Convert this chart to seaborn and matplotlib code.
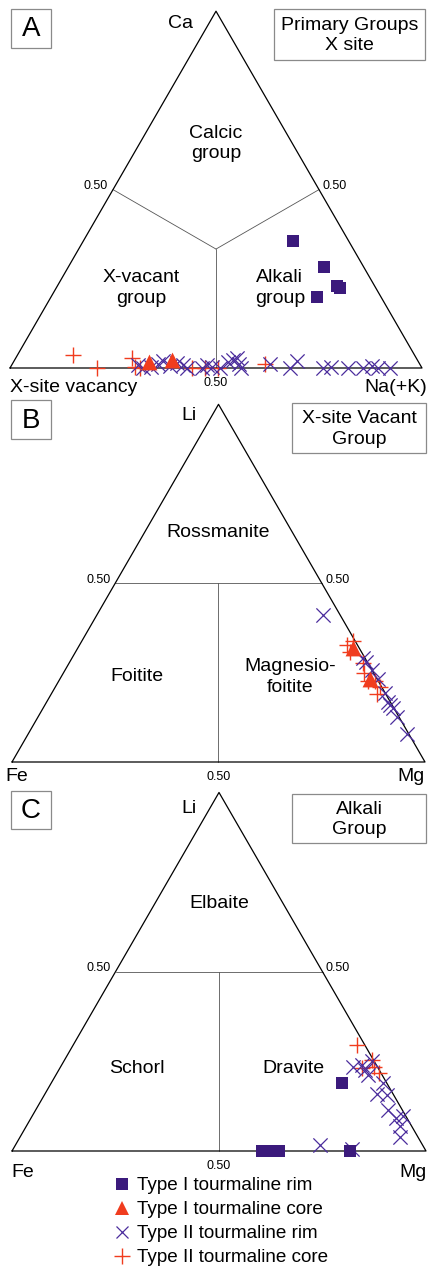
import numpy as np
import pandas as pd
import matplotlib
matplotlib.use("Agg")
import matplotlib.pyplot as plt
import seaborn as sns
from matplotlib.lines import Line2D
from matplotlib.patches import Rectangle

# ---- data: ternary fractions (top apex, right apex) ----
# Panel A: Ca (top), X-site vacancy (left), Na(+K) (right)
a_rim1_ca = [0.356, 0.283, 0.230, 0.224, 0.199]
a_rim1_na = [0.509, 0.621, 0.679, 0.689, 0.646]
a_core1_ca = [0.017, 0.022]
a_core1_na = [0.330, 0.383]
a_rim2_ca = [0.008, 0.0, 0.003, 0.011, 0.020, 0.006, 0.014, 0.008, 0.0, 0.0,
             0.008, 0.003, 0.0, 0.017, 0.022, 0.028, 0.011, 0.0, 0.011, 0.0,
             0.020, 0.0, 0.003, 0.0, 0.0, 0.006, 0.0, 0.0]
a_rim2_na = [0.307, 0.323, 0.340, 0.354, 0.361, 0.385, 0.398, 0.416, 0.430, 0.466,
             0.474, 0.490, 0.510, 0.521, 0.530, 0.537, 0.550, 0.561, 0.625, 0.680,
             0.687, 0.760, 0.777, 0.820, 0.857, 0.876, 0.893, 0.922]
a_core2_ca = [0.036, 0.0, 0.028, 0.003, 0.0, 0.0, 0.0, 0.0, 0.011]
a_core2_na = [0.135, 0.211, 0.282, 0.303, 0.316, 0.442, 0.473, 0.505, 0.613]

# Panel B: Li (top), Fe (left), Mg (right)
b_core1_li = [0.318, 0.232]
b_core1_mg = [0.667, 0.751]
b_rim2_li = [0.411, 0.291, 0.279, 0.257, 0.232, 0.193, 0.168, 0.159, 0.151, 0.126, 0.078]
b_rim2_mg = [0.548, 0.705, 0.717, 0.744, 0.770, 0.807, 0.826, 0.835, 0.848, 0.869, 0.917]
b_core2_li = [0.327, 0.338, 0.307, 0.277, 0.249, 0.226, 0.226, 0.209, 0.190]
b_core2_mg = [0.648, 0.657, 0.664, 0.712, 0.728, 0.749, 0.766, 0.786, 0.789]

# Panel C: Li (top), Fe (left), Mg (right)
c_rim1_li = [0.190, 0.0, 0.0, 0.0, 0.0, 0.0]
c_rim1_mg = [0.702, 0.604, 0.618, 0.633, 0.645, 0.816]
c_rim2_li = [0.017, 0.006, 0.235, 0.240, 0.226, 0.251, 0.212, 0.190, 0.159, 0.156,
             0.115, 0.092, 0.098, 0.070, 0.039]
c_rim2_mg = [0.736, 0.818, 0.707, 0.725, 0.740, 0.744, 0.754, 0.801, 0.802, 0.828,
             0.851, 0.882, 0.895, 0.902, 0.917]
c_core2_li = [0.296, 0.254, 0.232, 0.235, 0.218]
c_core2_mg = [0.685, 0.743, 0.729, 0.757, 0.777]

labels = ["Type I tourmaline rim", "Type I tourmaline core",
          "Type II tourmaline rim", "Type II tourmaline core"]

PURPLE = "#3b1a7c"
XPURPLE = "#4a2c9c"
RED = "#f03c1e"

W, H = 429, 1268
sns.set_theme(style="white")
plt.rcParams["font.family"] = ["Liberation Sans", "DejaVu Sans"]
plt.rcParams["text.color"] = "black"

fig = plt.figure(figsize=(W / 100, H / 100), dpi=100)
fig.patch.set_facecolor("white")

SQ3 = np.sqrt(3) / 2


def to_xy(top, right):
    top = np.asarray(top, float)
    right = np.asarray(right, float)
    return right + top / 2, top * SQ3


def panel(top_px, bot_px, left_px, base_px, side_px):
    ax = fig.add_axes([0, 1 - bot_px / H, 1, (bot_px - top_px) / H])
    ax.set_xlim(-left_px / side_px, (W - left_px) / side_px)
    ax.set_ylim((base_px - bot_px) / side_px, (base_px - top_px) / side_px)
    ax.axis("off")
    ax.plot([0, 1, 0.5, 0], [0, 0, SQ3, 0], color="black", lw=0.9, zorder=2)
    return ax


def scat(ax, top, right, kind):
    x, y = to_xy(top, right)
    df = pd.DataFrame({"x": x, "y": y})
    if kind == 0:
        sns.scatterplot(data=df, x="x", y="y", ax=ax, marker="s", s=70,
                        color=PURPLE, edgecolor=PURPLE, linewidth=0, zorder=4)
    elif kind == 1:
        sns.scatterplot(data=df, x="x", y="y", ax=ax, marker="^", s=130,
                        color=RED, edgecolor=RED, linewidth=0, zorder=5)
    elif kind == 2:
        sns.scatterplot(data=df, x="x", y="y", ax=ax, marker="x", s=105,
                        color=XPURPLE, linewidth=0.9, zorder=3)
    else:
        sns.scatterplot(data=df, x="x", y="y", ax=ax, marker="+", s=145,
                        color=RED, linewidth=1.0, zorder=3)
    ax.set_xlabel("")
    ax.set_ylabel("")


def half_labels(ax):
    lx, ly = to_xy(0.5, 0.0)
    rx, ry = to_xy(0.5, 0.5)
    ax.text(lx - 0.012, ly + 0.008, "0.50", fontsize=9, ha="right", va="center")
    ax.text(rx + 0.008, ry + 0.008, "0.50", fontsize=9, ha="left", va="center")
    ax.text(0.5, -0.021, "0.50", fontsize=9, ha="center", va="top")


# ---------------- Panel A ----------------
axA = panel(0, 392, 10, 368, 412)
cx, cy = to_xy(1 / 3, 1 / 3)
for p in [to_xy(0.5, 0.0), to_xy(0.5, 0.5), to_xy(0.0, 0.5)]:
    axA.plot([p[0], cx], [p[1], cy], color="#555555", lw=0.6, zorder=1)
half_labels(axA)
axA.text(0.5 - 0.055, SQ3 - 0.03, "Ca", fontsize=14, ha="right", va="center")
axA.text(0.0, -0.048, "X-site vacancy", fontsize=14, ha="left", va="center")
axA.text(1.012, -0.048, "Na(+K)", fontsize=14, ha="right", va="center")
axA.text(0.5, 0.545, "Calcic\ngroup", fontsize=14, ha="center", va="center", linespacing=1.3)
axA.text(0.318, 0.194, "X-vacant\ngroup", fontsize=14, ha="center", va="center", linespacing=1.3)
axA.text(0.655, 0.194, "Alkali\ngroup", fontsize=14, ha="center", va="center", linespacing=1.3)
scat(axA, a_core2_ca, a_core2_na, 3)
scat(axA, a_rim2_ca, a_rim2_na, 2)
scat(axA, a_core1_ca, a_core1_na, 1)
scat(axA, a_rim1_ca, a_rim1_na, 0)

# ---------------- Panel B ----------------
axB = panel(392, 785, 12, 762, 413)


def li_grid(ax):
    lx, ly = to_xy(0.5, 0.0)
    rx, ry = to_xy(0.5, 0.5)
    ax.plot([lx, rx], [ly, ry], color="#555555", lw=0.6, zorder=1)
    ax.plot([0.5, 0.5], [0, ly], color="#555555", lw=0.6, zorder=1)


li_grid(axB)
half_labels(axB)
axB.text(0.5 - 0.053, SQ3 - 0.026, "Li", fontsize=14, ha="right", va="center")
axB.text(0.012, -0.034, "Fe", fontsize=14, ha="center", va="center")
axB.text(0.965, -0.034, "Mg", fontsize=14, ha="center", va="center")
axB.text(0.5, 0.555, "Rossmanite", fontsize=14, ha="center", va="center")
axB.text(0.303, 0.206, "Foitite", fontsize=14, ha="center", va="center")
axB.text(0.673, 0.206, "Magnesio-\nfoitite", fontsize=14, ha="center", va="center", linespacing=1.3)
scat(axB, b_core2_li, b_core2_mg, 3)
scat(axB, b_rim2_li, b_rim2_mg, 2)
scat(axB, b_core1_li, b_core1_mg, 1)

# ---------------- Panel C ----------------
axC = panel(785, 1268, 12, 1151, 414)
li_grid(axC)
half_labels(axC)
axC.text(0.5 - 0.053, SQ3 - 0.038, "Li", fontsize=14, ha="right", va="center")
axC.text(0.027, -0.053, "Fe", fontsize=14, ha="center", va="center")
axC.text(0.968, -0.053, "Mg", fontsize=14, ha="center", va="center")
axC.text(0.5, 0.599, "Elbaite", fontsize=14, ha="center", va="center")
axC.text(0.302, 0.200, "Schorl", fontsize=14, ha="center", va="center")
axC.text(0.679, 0.200, "Dravite", fontsize=14, ha="center", va="center")
scat(axC, c_core2_li, c_core2_mg, 3)
scat(axC, c_rim2_li, c_rim2_mg, 2)
scat(axC, c_rim1_li, c_rim1_mg, 0)

# ---------------- boxes (pixel overlay) ----------------
ov = fig.add_axes([0, 0, 1, 1], facecolor="none")
ov.set_xlim(0, W)
ov.set_ylim(H, 0)
ov.axis("off")


def box(x0, y0, x1, y1, text, size):
    ov.add_patch(Rectangle((x0, y0), x1 - x0, y1 - y0, fill=False,
                           edgecolor="#8a8a8a", lw=0.9))
    ov.text((x0 + x1) / 2, (y0 + y1) / 2 + 1, text, fontsize=size,
            ha="center", va="center", linespacing=1.25)


box(11, 9, 51, 48, "A", 20)
box(274, 9, 425, 60, "Primary Groups\nX site", 14)
box(11, 400, 51, 439, "B", 20)
box(292, 403, 426, 453, "X-site Vacant\nGroup", 14)
box(11, 791, 51, 829, "C", 20)
box(292, 794, 426, 843, "Alkali\nGroup", 14)

# ---------------- legend ----------------
handles = [
    Line2D([], [], ls="none", marker="s", ms=8, color=PURPLE, mew=0),
    Line2D([], [], ls="none", marker="^", ms=10.5, color=RED, mew=0),
    Line2D([], [], ls="none", marker="x", ms=9, color=XPURPLE, mew=0.9),
    Line2D([], [], ls="none", marker="+", ms=12, color=RED, mew=1.0),
]
fig.legend(handles, labels, loc="upper left", bbox_to_anchor=(113 / W, 1 - 1177 / H),
           frameon=False, fontsize=13.6, handlelength=1.0, handletextpad=0.25,
           labelspacing=0.36, borderpad=0, borderaxespad=0)

fig.savefig("out.png", dpi=100, facecolor="white")
